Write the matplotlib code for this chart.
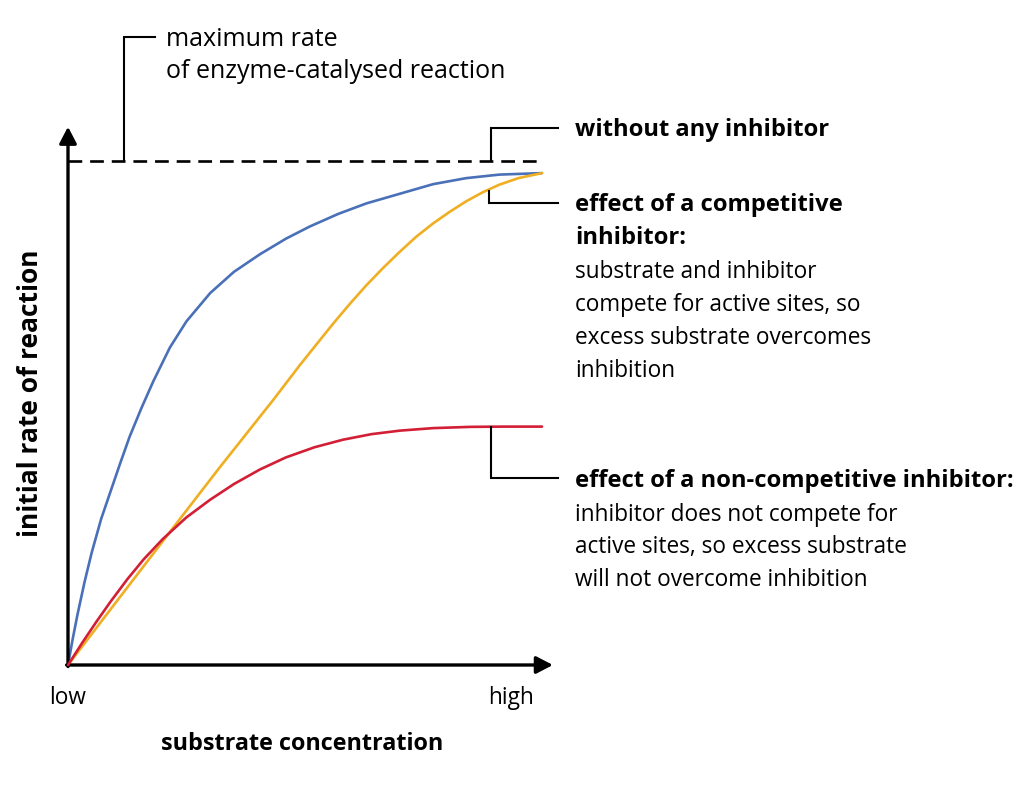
import matplotlib
matplotlib.use("Agg")
import matplotlib.pyplot as plt

# ---- data (arbitrary units: x 0..100, y 0..100 = max rate) ----
blue_x = [0, 1, 2, 3.5, 5, 7, 9, 11, 13, 15.5, 18, 21.5, 25, 30, 35, 40.5, 46, 51,
          57, 63, 70, 77, 84, 91, 100]
blue_y = [0, 5.2, 10, 16.5, 22.3, 29, 34.5, 40, 45.3, 51, 56.3, 63, 68.2, 73.8, 78,
          81.5, 84.6, 87, 89.5, 91.6, 93.5, 95.4, 96.6, 97.3, 97.6]

comp_x = [0, 10, 21.5, 32, 43.3, 49, 53, 56, 59.5, 63, 66.5, 70, 73.5, 77, 80.5,
          84, 87.5, 91, 95, 100]
comp_y = [0, 12.3, 26.4, 39.2, 52.6, 59.6, 64.3, 67.8, 71.7, 75.4, 78.8, 82.0, 85.0,
          87.6, 89.9, 92.0, 93.8, 95.3, 96.6, 97.6]

noncomp_x = [0, 3, 6, 9, 12.5, 16, 20, 25, 30, 35, 40.5, 46, 52, 58, 64, 70, 77,
             85, 92, 100]
noncomp_y = [0, 4.4, 8.6, 12.6, 17.0, 21.0, 25.0, 29.3, 32.8, 35.9, 38.8, 41.2, 43.2,
             44.7, 45.8, 46.5, 47.0, 47.25, 47.3, 47.3]

vmax = 100
x_ticklabels = ["low", "high"]
x_label = "substrate concentration"
y_label = "initial rate of reaction"

FONT = ["Open Sans", "DejaVu Sans"]
plt.rcParams['font.family'] = FONT

W, H = 1024, 806
fig = plt.figure(figsize=(W / 100, H / 100), dpi=100)
fig.patch.set_facecolor("white")

# main data axes: x 0..100 -> px 68..542, y 0..100 -> py 665..161
ax = fig.add_axes([68 / W, (H - 665) / H, 474 / W, 504 / H])
ax.set_xlim(0, 100)
ax.set_ylim(0, 100)
ax.axis("off")

ax.plot(blue_x, blue_y, color="#4a70b8", lw=1.9, solid_capstyle="round",
        solid_joinstyle="round", clip_on=False, zorder=3)
ax.plot(comp_x, comp_y, color="#f0ae22", lw=1.9, solid_capstyle="round",
        solid_joinstyle="round", clip_on=False, zorder=3)
ax.plot(noncomp_x, noncomp_y, color="#d31f35", lw=1.9, solid_capstyle="round",
        solid_joinstyle="round", clip_on=False, zorder=4)
ax.plot([0, 100], [vmax, vmax], color="black", lw=1.9, ls=(0, (5.2, 3.0)),
        clip_on=False, zorder=2)

# axes with arrows
arrow = dict(arrowstyle="-|>,head_length=0.5,head_width=0.26", color="black", lw=2.4,
             shrinkA=0, shrinkB=0, mutation_scale=20)
ax.annotate("", xy=(102.3, 0), xytext=(-0.3, 0), arrowprops=arrow, annotation_clip=False)
ax.annotate("", xy=(0, 106.8), xytext=(0, -0.3), arrowprops=arrow, annotation_clip=False)

# overlay in pixel coordinates for callouts and text
ov = fig.add_axes([0, 0, 1, 1], zorder=5)
ov.set_xlim(0, W)
ov.set_ylim(H, 0)
ov.axis("off")
ov.patch.set_alpha(0)

lk = dict(color="black", lw=1.5, solid_joinstyle="miter")
ov.plot([124, 124, 155], [161, 37, 37], **lk)
ov.plot([491, 491, 558], [161, 128, 128], **lk)
ov.plot([489, 489, 558], [191, 203, 203], **lk)
ov.plot([491, 491, 558], [427, 478, 478], **lk)

fs = 16.3
fs_top = 18
fs_bold = 17.1
ov.text(166, 46, "maximum rate", fontsize=fs_top, va="baseline", ha="left")
ov.text(166, 78, "of enzyme-catalysed reaction", fontsize=fs_top, va="baseline", ha="left")

ov.text(575, 136, "without any inhibitor", fontsize=fs_bold, fontweight="bold", va="baseline")

tx = 575
ov.text(tx, 211, "effect of a competitive", fontsize=fs_bold, fontweight="bold", va="baseline")
ov.text(tx, 244, "inhibitor:", fontsize=fs_bold, fontweight="bold", va="baseline")
for i, s in enumerate(["substrate and inhibitor", "compete for active sites, so",
                       "excess substrate overcomes", "inhibition"]):
    ov.text(tx, 278 + 33 * i, s, fontsize=fs, va="baseline")

ov.text(tx, 487, "effect of a non-competitive inhibitor:", fontsize=fs_bold,
        fontweight="bold", va="baseline")
for i, s in enumerate(["inhibitor does not compete for", "active sites, so excess substrate",
                       "will not overcome inhibition"]):
    ov.text(tx, 521 + 32.5 * i, s, fontsize=fs, va="baseline")

ov.text(68, 704, x_ticklabels[0], fontsize=fs, ha="center", va="baseline")
ov.text(511, 704, x_ticklabels[1], fontsize=fs, ha="center", va="baseline")
ov.text(302, 750, x_label, fontsize=16.8, fontweight="bold", ha="center", va="baseline")
ov.text(31, 393, y_label, fontsize=19, fontweight="bold", ha="center", va="center", rotation=90)

fig.savefig("out.png", dpi=100, facecolor="white")
